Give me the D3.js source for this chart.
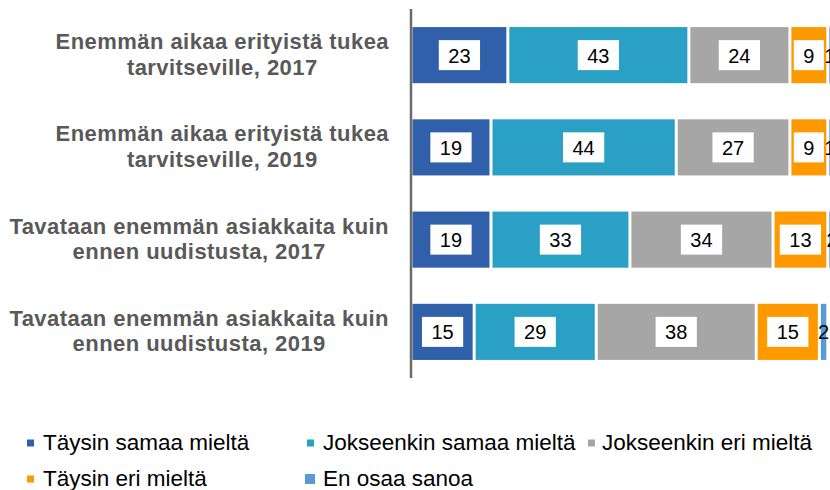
<!DOCTYPE html>
<html>
<head>
<meta charset="utf-8">
<script src="https://cdn.jsdelivr.net/npm/d3@7"></script>
<style>
  body { margin: 0; background: #fff; }
  svg { display: block; font-family: "Liberation Sans", Arial, sans-serif; }
</style>
</head>
<body>
<svg id="chart" width="830" height="490"></svg>
<script>
// categories, one entry per bar, split in two lines like the original
var categories = [
    ["Enemmän aikaa erityistä tukea", "tarvitseville, 2017"],
    ["Enemmän aikaa erityistä tukea", "tarvitseville, 2019"],
    ["Tavataan enemmän asiakkaita kuin", "ennen uudistusta, 2017"],
    ["Tavataan enemmän asiakkaita kuin", "ennen uudistusta, 2019"]
]
var seriesNames = ["Täysin samaa mieltä", "Jokseenkin samaa mieltä", "Jokseenkin eri mieltä", "Täysin eri mieltä", "En osaa sanoa"]

// values per series (%), same order as categories
var taysinSamaa = [23, 19, 19, 15]
var jokseenkinSamaa = [43, 44, 33, 29]
var jokseenkinEri = [24, 27, 34, 38]
var taysinEri = [9, 9, 13, 15]
var enOsaa = [1, 1, 2, 2]

var series = [taysinSamaa, jokseenkinSamaa, jokseenkinEri, taysinEri, enOsaa]
var colors = ["#3060aa", "#2aa0c4", "#a6a6a6", "#ff9900", "#5b9bd5"]

var svg = d3.select('#chart')

var x = d3.scaleLinear().domain([0, 100]).range([411, 832])
var y = d3.scaleBand()
    .domain(d3.range(categories.length))
    .range([9, 378])
    .paddingInner(0.37)
    .paddingOuter(0.185)

// stack the series for each row
var rows = categories.map(function(c, i) {
    var acc = 0
    return series.map(function(s, k) {
        var seg = { row: i, k: k, v: s[i], x0: acc, x1: acc + s[i] }
        acc += s[i]
        return seg
    })
})
var segs = d3.merge(rows)

var bars = svg.append('g')
bars.selectAll('rect')
    .data(segs)
    .join('rect')
    .attr('x', d => x(d.x0) + 1.5)
    .attr('width', d => Math.max(0, x(d.x1) - x(d.x0) - 3))
    .attr('y', d => y(d.row) + 1)
    .attr('height', y.bandwidth() - 2)
    .attr('fill', d => colors[d.k])

// value labels, white box except for the last (thin) series
var labelFs = 20
var labels = svg.append('g')
segs.forEach(function(d) {
    var cx = (x(d.x0) + x(d.x1)) / 2
    var cy = y(d.row) + y.bandwidth() / 2
    var g = labels.append('g')
    var t = g.append('text')
        .attr('x', cx)
        .attr('y', cy + 7.5)
        .attr('text-anchor', 'middle')
        .style('font-size', labelFs + 'px')
        .attr('fill', '#000')
        .text(d.v)
    if (d.k < 4) {
        var w = t.node().getComputedTextLength() + 19
        g.insert('rect', 'text')
            .attr('x', cx - w / 2)
            .attr('y', cy - 15)
            .attr('width', w)
            .attr('height', 30)
            .attr('fill', '#fff')
    }
})

// vertical axis line
svg.append('line')
    .attr('x1', 411).attr('x2', 411)
    .attr('y1', 9).attr('y2', 378)
    .attr('stroke', '#6b6b6b')
    .attr('stroke-width', 2.5)

// category labels: lines centred on each other, block right aligned
var catG = svg.append('g')
categories.forEach(function(lines, i) {
    var cy = y(i) + y.bandwidth() / 2
    var ts = lines.map(function(l, j) {
        return catG.append('text')
            .attr('y', cy + (j === 0 ? -6 : 19.5))
            .attr('text-anchor', 'middle')
            .style('font-size', '22px')
            .style('font-weight', 'bold')
            .style('letter-spacing', '0.45px')
            .attr('fill', '#595959')
            .text(l)
    })
    var maxW = d3.max(ts, t => t.node().getComputedTextLength())
    ts.forEach(t => t.attr('x', 389 - maxW / 2))
})

// legend, 3 columns x 2 rows
var legCols = [27, 307, 588]
var legRows = [443, 479]
var legend = svg.append('g')
seriesNames.forEach(function(name, k) {
    var col = k < 3 ? k : k - 3
    var row = k < 3 ? 0 : 1
    var lx = legCols[col]
    var ly = legRows[row]
    var s = k === 4 ? 10 : 7
    legend.append('rect')
        .attr('x', lx + (k === 4 ? -2 : 0))
        .attr('y', ly - s / 2)
        .attr('width', s)
        .attr('height', s)
        .attr('fill', colors[k])
    legend.append('text')
        .attr('x', lx + (col === 2 ? 14 : 16))
        .attr('y', ly + 6.5)
        .style('font-size', '22.5px')
        .attr('fill', '#000')
        .text(name)
})
</script>
</body>
</html>
